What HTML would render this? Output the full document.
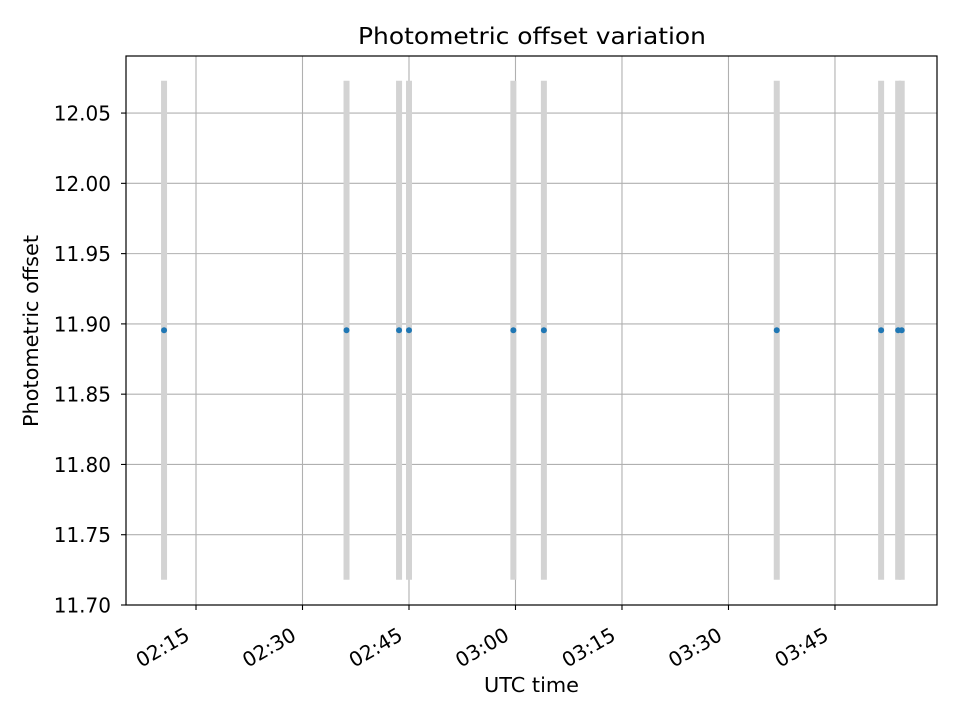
<!DOCTYPE html>
<html><head><meta charset="utf-8"><style>
body{margin:0;background:#fff;font-family:"DejaVu Sans","Liberation Sans",sans-serif}
svg text{font-family:"DejaVu Sans","Liberation Sans",sans-serif}
</style></head><body>
<svg width="960" height="720" xmlns="http://www.w3.org/2000/svg" id="svg">
<rect width="960" height="720" fill="#fff"/>
<g id="grid"></g>
<g id="marks"></g>
<rect x="126" y="56" width="811" height="549" fill="none" stroke="#000" stroke-width="1.2"/>
<g id="axes"></g>
<text x="532" y="44" font-size="23.5" text-anchor="middle" textLength="348" lengthAdjust="spacingAndGlyphs">Photometric offset variation</text>
<text x="531.5" y="692" font-size="20.5" text-anchor="middle" textLength="95" lengthAdjust="spacingAndGlyphs">UTC time</text>
<text transform="translate(38,331) rotate(-90)" font-size="20.5" text-anchor="middle" textLength="192" lengthAdjust="spacingAndGlyphs">Photometric offset</text>
</svg>
<script>
const times=["02:10.5","02:36.2","02:43.6","02:45.0","02:59.7","03:04.0","03:36.8","03:51.5","03:53.9","03:54.4"];
const offsets=[11.8955,11.8955,11.8955,11.8955,11.8955,11.8955,11.8955,11.8955,11.8955,11.8955];
const errors=[0.1775,0.1775,0.1775,0.1775,0.1775,0.1775,0.1775,0.1775,0.1775,0.1775];
const yTicks=[11.70,11.75,11.80,11.85,11.90,11.95,12.00,12.05];
const xTickLabels=["02:15","02:30","02:45","03:00","03:15","03:30","03:45"];
const NS="http://www.w3.org/2000/svg";
function toMin(s){const [h,m]=s.split(":");return +h*60+parseFloat(m);}
const x0=126,x1=937,y0=605,y1=56;
const tmin=toMin("02:05.14"),tmax=toMin("03:59.37");
const vmin=11.70,vmax=12.0906;
function X(t){return x0+(toMin(t)-tmin)/(tmax-tmin)*(x1-x0);}
function Y(v){return y0-(v-vmin)/(vmax-vmin)*(y0-y1);}
function mk(tag,attrs,parent){const e=document.createElementNS(NS,tag);for(const k in attrs)e.setAttribute(k,attrs[k]);document.getElementById(parent).appendChild(e);return e;}
yTicks.forEach(v=>{const y=Y(v);
 let g=mk("line",{x1:x0,x2:x1,y1:y,y2:y,stroke:"#b0b0b0","stroke-width":1.1},"grid");
 
 
 let t=mk("line",{x1:x0-5,x2:x0,y1:y,y2:y,stroke:"#000","stroke-width":1.1},"axes");
 
 
 let l=mk("text",{x:x0-15,y:y+7.5,"font-size":20,"text-anchor":"end"},"axes");l.textContent=v.toFixed(2);
 
 
});
xTickLabels.forEach(s=>{const x=X(s);
 let g=mk("line",{x1:x,x2:x,y1:y0,y2:y1,stroke:"#b0b0b0","stroke-width":1.1},"grid");
 
 
 let t=mk("line",{x1:x,x2:x,y1:y0,y2:y0+5,stroke:"#000","stroke-width":1.1},"axes");
 
 
 let l=mk("text",{transform:`translate(${x-5},639) rotate(-30)`,"font-size":20,"text-anchor":"end"},"axes");l.textContent=s;
 
 
});
times.forEach((t,i)=>{const x=X(t);
 let b=mk("line",{x1:x,x2:x,y1:Y(offsets[i]-errors[i]),y2:Y(offsets[i]+errors[i]),stroke:"#d3d3d3","stroke-width":6},"marks");
 
 
});
times.forEach((t,i)=>{
 let c=mk("circle",{cx:X(t),cy:Y(offsets[i]),r:3,fill:"#1f77b4"},"marks");
 
 
});
</script>
</body></html>
